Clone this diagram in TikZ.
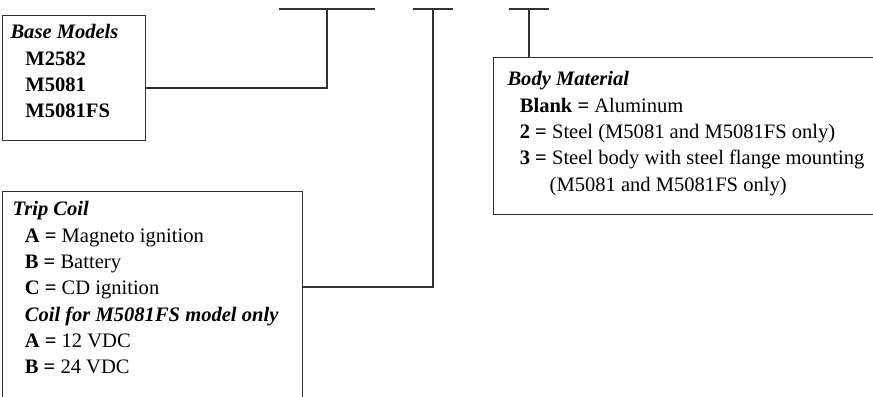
\documentclass[tikz,border=0pt]{standalone}
\usepackage{fontspec}
\setmainfont{Liberation Serif}
\usetikzlibrary{positioning}
\tikzset{
  every picture/.style={line width=0.6pt},
  frame/.style={draw=black!80, anchor=north west, inner sep=0pt},
  txt/.style={anchor=north west, align=left, inner sep=0pt, font=\fontsize{11.7}{15}\selectfont},
  wire/.style={draw=black!80},
}
\newcommand\hd[1]{\textbf{\textit{#1}}}
\newcommand\ky[1]{\textbf{#1}}
\newcommand\ind{\hspace*{7pt}}

\begin{document}
\begin{tikzpicture}[x=0.02cm, y=-0.02cm]
  \useasboundingbox (0,0) rectangle (873,396);
  % option boxes
  \node[frame, minimum width=2.86cm, minimum height=2.5cm] (base) at (2,15) {};
  \node[frame, minimum width=6cm, minimum height=4.4cm] (trip) at (2,191) {};
  \node[frame, minimum width=7.9cm, minimum height=3.14cm] (body) at (493,57) {};
  \node[txt] (basetxt) at (10,24) {\hd{Base Models}\\
    \hspace*{8.5pt}\ky{M2582}\\
    \hspace*{8.5pt}\ky{M5081}\\
    \hspace*{8.5pt}\ky{M5081FS}};
  \node[txt] (triptxt) at (12,201) {\hd{Trip Coil}\\
    \ind\ky{A =} Magneto ignition\\
    \ind\ky{B =} Battery\\
    \ind\ky{C =} CD ignition\\
    \ind\hd{Coil for M5081FS model only}\\
    \ind\ky{A =} 12 VDC\\
    \ind\ky{B =} 24 VDC};
  \node[txt] (bodytxt) at (507,71) {\hd{Body Material}\\
    \ind\ky{Blank =} Aluminum\\
    \ind\ky{2 =} Steel (M5081 and M5081FS only)\\
    \ind\ky{3 =} Steel body with steel flange mounting\\
    \ind\hspace*{17pt}(M5081 and M5081FS only)};
  % code blanks
  \coordinate (d1) at (327,9);
  \coordinate (d2) at (433,9);
  \coordinate (d3) at (529,9);
  \draw[wire] (d1) ++(-48,0) -- ++(96,0);
  \draw[wire] (d2) ++(-20,0) -- ++(40,0);
  \draw[wire] (d3) ++(-20,0) -- ++(40,0);
  % leaders
  \coordinate (j1) at (327,88);
  \coordinate (j2) at (433,287);
  \draw[wire] (base.east |- j1) -- (j1) -- (d1);
  \draw[wire] (trip.east |- j2) -- (j2) -- (d2);
  \draw[wire] (body.north -| d3) -- (d3);
\end{tikzpicture}
\end{document}
